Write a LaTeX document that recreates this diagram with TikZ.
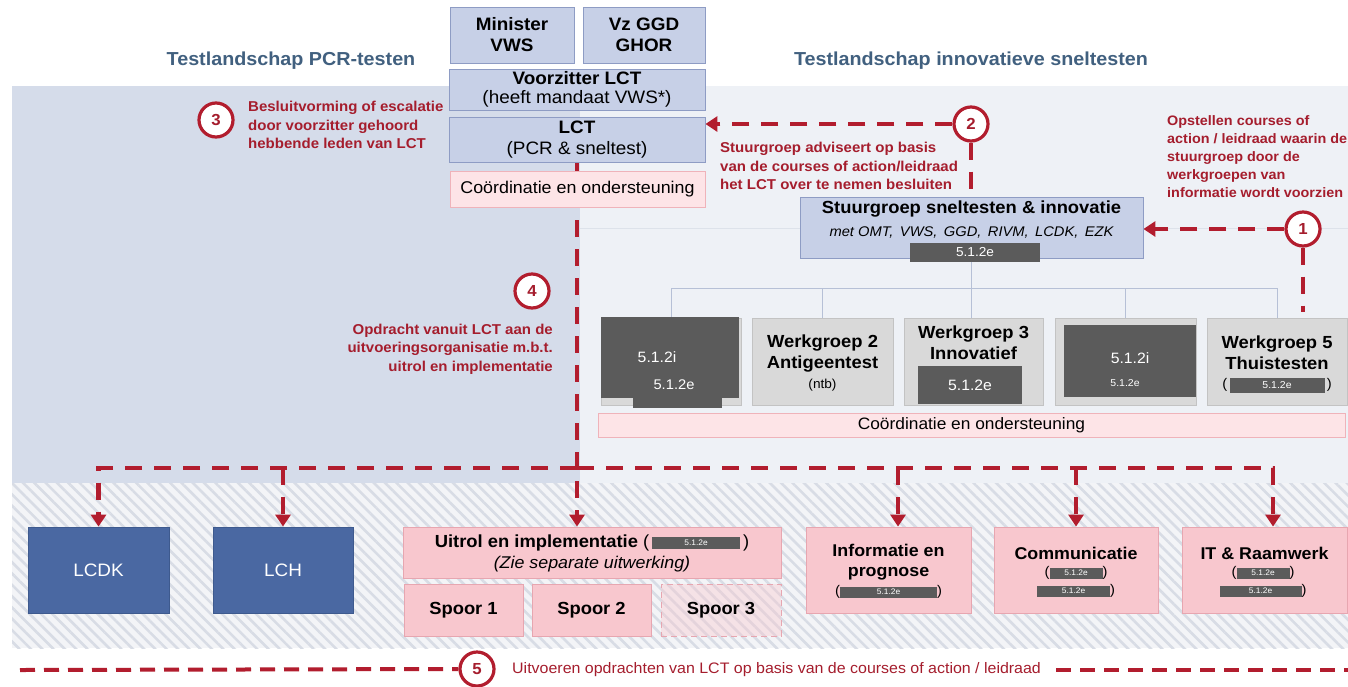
\documentclass[tikz,border=0pt]{standalone}
\usepackage{fontspec}
\setmainfont[FakeStretch=1.05]{Liberation Sans}
\usetikzlibrary{arrows.meta,patterns.meta,calc}
\definecolor{panelblue}{HTML}{D5DCEA}
\definecolor{panellight}{HTML}{EEF1F6}
\definecolor{panelline}{HTML}{DDE2EA}
\definecolor{boxblue}{HTML}{C7D0E7}
\definecolor{boxblueline}{HTML}{8E9CC4}
\definecolor{wggrey}{HTML}{D9D9D9}
\definecolor{wgline}{HTML}{C3C3C3}
\definecolor{darkbar}{HTML}{5B5B5B}
\definecolor{pinklight}{HTML}{FDE4E7}
\definecolor{pinklightline}{HTML}{EFB3BA}
\definecolor{pinkbox}{HTML}{F8C7CE}
\definecolor{pinkline}{HTML}{E7A6B0}
\definecolor{lcblue}{HTML}{4A68A2}
\definecolor{lcline}{HTML}{3E5A8E}
\definecolor{redline}{HTML}{B21D2E}
\definecolor{redtext}{HTML}{A51D2D}
\definecolor{titleblue}{HTML}{41607F}
\definecolor{treeline}{HTML}{B6C0D6}
\definecolor{hatchbg}{HTML}{F3F4F7}
\definecolor{hatchline}{HTML}{D8DCE5}
\newcommand{\gbar}[3]{{\setlength{\fboxsep}{0pt}\colorbox{darkbar}{\parbox[c][#2][c]{#1}{\centering\color{white}\fontsize{#3}{#3}\selectfont 5.1.2e}}}}
\pgfdeclarelayer{bg}\pgfdeclarelayer{conn}\pgfsetlayers{bg,conn,main}
\tikzset{
  box/.style={draw=boxblueline, fill=boxblue, line width=0.8pt, inner sep=0pt, align=center, text=black},
  wg/.style={draw=wgline, fill=wggrey, line width=0.8pt, inner sep=0pt},
  darkblk/.style={fill=darkbar, inner sep=0pt, text=white},
  coordbox/.style={draw=pinklightline, fill=pinklight, line width=0.8pt, inner sep=0pt, font=\fontsize{16.5}{18}\selectfont},
  pbox/.style={draw=pinkline, fill=pinkbox, line width=0.8pt, inner sep=0pt, align=center},
  lcbox/.style={draw=lcline, fill=lcblue, line width=0.8pt, inner sep=0pt, text=white, font=\fontsize{18}{20}\selectfont},
  numc/.style={circle, draw=redline, fill=white, line width=3.2pt, minimum size=34pt, inner sep=0pt, text=redtext, font=\fontsize{16}{16}\selectfont\bfseries},
  redann/.style={text=redtext, font=\fontsize{14.3}{18.5}\selectfont\bfseries, inner sep=0pt},
  reddash/.style={draw=redline, line width=4.5pt, dash pattern=on 17pt off 12pt},
  redarrow/.style={reddash, -{Triangle[width=15pt,length=12pt]}},
  reddashlow/.style={draw=redline, line width=4pt, dash pattern=on 15pt off 9pt},
  tree/.style={draw=treeline, line width=0.8pt},
  ttl/.style={text=titleblue, font=\fontsize{18.8}{21}\selectfont\bfseries, inner sep=0pt},
  bt/.style={font=\fontsize{17.5}{21}\selectfont\bfseries, align=center, inner sep=0pt},
  wt/.style={text=white, inner sep=0pt},
}
\begin{document}
\begin{tikzpicture}[x=1pt,y=-1pt]
\useasboundingbox (0,0) rectangle (1348,686);
\begin{pgfonlayer}{bg}
\fill[white] (0,0) rectangle (1348,686);
\fill[panelblue] (12,86) rectangle (580,483);
\fill[panellight] (580,86) rectangle (1348,483);
\draw[panelline, line width=0.8pt] (580,228) -- (1348,228);
\fill[hatchbg] (12,483) rectangle (1348,648);
\fill[pattern={Lines[angle=-45,distance=8pt,line width=2.6pt]}, pattern color=hatchline] (12,483) rectangle (1348,648);
\end{pgfonlayer}

% titles
\node[ttl] (tpcr) at (291,61) {Testlandschap PCR-testen};
\node[ttl] (tinno) at (971,61) {Testlandschap innovatieve sneltesten};

% top boxes
\node[box, minimum width=124pt, minimum height=56pt, font=\fontsize{18}{21}\selectfont\bfseries] (minister) at (512,35) {Minister\\VWS};
\node[box, minimum width=122pt, minimum height=56pt, font=\fontsize{18}{21}\selectfont\bfseries] (vzggd) at (644,35) {Vz GGD\\GHOR};
\node[box, minimum width=256pt, minimum height=41pt, font=\fontsize{18}{19.5}\selectfont] (voorz) at (577,89.5) {{\bfseries Voorzitter LCT}\\(heeft mandaat VWS*)};
\node[box, minimum width=256pt, minimum height=45pt, font=\fontsize{18}{21}\selectfont] (lct) at (577,139.5) {{\bfseries LCT}\\(PCR \& sneltest)};
\node[coordbox, minimum width=255pt, minimum height=36pt, font=\fontsize{17}{18}\selectfont] (coordtop) at (577.5,189) {Coördinatie en ondersteuning};

% annotation 3
\node[numc] (c3) at (216,120) {3};
\node[redann, anchor=west, align=left] (a3) at (248,125) {Besluitvorming of escalatie\\door voorzitter gehoord\\hebbende leden van LCT};

% annotation 2
\node[numc] (c2) at (971,124) {2};
\node[redann, anchor=west, align=left] (a2) at (720,166) {Stuurgroep adviseert op basis\\van de courses of action/leidraad\\het LCT over te nemen besluiten};

% stuurgroep
\node[box, minimum width=343pt, minimum height=61pt] (sg) at (971.5,227.5) {};
\node[inner sep=0pt, font=\fontsize{17.5}{20}\selectfont\bfseries] (sgt) at (971.5,209) {Stuurgroep sneltesten \& innovatie};
\node[inner sep=0pt, font=\fontsize{14}{16}\selectfont\itshape] (sgs) at (971.5,233) {met OMT,\, VWS,\, GGD,\, RIVM,\, LCDK,\, EZK};
\node[darkblk, minimum width=130pt, minimum height=19pt, font=\fontsize{13}{14}\selectfont] (sgbar) at (975,252) {5.1.2e};

% annotation 1
\node[numc] (c1) at (1303,229) {1};
\node[redann, anchor=west, align=left, font=\fontsize{13.7}{18}\selectfont\bfseries] (a1) at (1167,157) {Opstellen courses of\\action / leidraad waarin de\\stuurgroep door de\\werkgroepen van\\informatie wordt voorzien};
\coordinate (c1end) at (1303,312);

% werkgroepen
\node[wg, minimum width=140pt, minimum height=87pt] (wg1) at (671,361.5) {};
\node[wg, minimum width=141pt, minimum height=87pt] (wg2) at (822.5,361.5) {};
\node[wg, minimum width=139pt, minimum height=87pt] (wg3) at (973.5,361.5) {};
\node[wg, minimum width=141pt, minimum height=87pt] (wg4) at (1125.5,361.5) {};
\node[wg, minimum width=140pt, minimum height=87pt] (wg5) at (1277,361.5) {};

\node[darkblk, minimum width=138pt, minimum height=81pt] (wg1a) at (670,357.5) {};
\node[darkblk, minimum width=89pt, minimum height=10pt] (wg1b) at (677.5,402.5) {};
\node[wt, font=\fontsize{15}{16}\selectfont] (wg1t1) at (657,357) {5.1.2i};
\node[wt, font=\fontsize{14}{16}\selectfont] (wg1t2) at (674,385) {5.1.2e};

\node[bt] (wg2t) at (822.5,353.5) {Werkgroep 2\\Antigeentest};
\node[inner sep=0pt, font=\fontsize{13}{14}\selectfont] (wg2n) at (822.5,385) {(ntb)};

\node[bt] (wg3t) at (973.5,343) {Werkgroep 3\\Innovatief};
\node[darkblk, minimum width=104pt, minimum height=38pt, font=\fontsize{15}{16}\selectfont] (wg3a) at (970,385) {5.1.2e};

\node[darkblk, minimum width=132pt, minimum height=72pt] (wg4a) at (1130,361) {};
\node[wt, font=\fontsize{15}{16}\selectfont] (wg4t1) at (1130,358) {5.1.2i};
\node[wt, font=\fontsize{10}{11}\selectfont] (wg4t2) at (1125,383) {5.1.2e};

\node[bt] (wg5t) at (1277,353) {Werkgroep 5\\Thuistesten};
\node[inner sep=0pt, font=\fontsize{14}{15}\selectfont] (wg5b) at (1277,385) {(\,\gbar{95pt}{15pt}{10}\,)};

\node[coordbox, minimum width=747pt, minimum height=24pt] (coordbot) at (971.5,425) {Coördinatie en ondersteuning};

% annotation 4
\node[numc] (c4) at (532,291) {4};
\node[redann, anchor=east, align=right] (a4) at (553,349) {Opdracht vanuit LCT aan de\\uitvoeringsorganisatie m.b.t.\\uitrol en implementatie};

% bottom boxes
\node[lcbox, minimum width=141pt, minimum height=86pt] (lcdk) at (98.5,570) {LCDK};
\node[lcbox, minimum width=140pt, minimum height=86pt] (lch) at (283,570) {LCH};
\node[pbox, minimum width=378pt, minimum height=51pt] (uitrol) at (592,552.5) {};
\node[inner sep=0pt, font=\fontsize{17.5}{20}\selectfont\bfseries] (uitt) at (592,543) {Uitrol en implementatie {\normalfont(\,\gbar{88pt}{12pt}{8}\,)}};
\node[inner sep=0pt, font=\fontsize{17}{20}\selectfont\itshape] (uits) at (592,564) {(Zie separate uitwerking)};
\node[pbox, minimum width=119pt, minimum height=52pt, font=\fontsize{17.5}{20}\selectfont\bfseries] (sp1) at (463.5,610) {Spoor 1};
\node[pbox, minimum width=119pt, minimum height=52pt, font=\fontsize{17.5}{20}\selectfont\bfseries] (sp2) at (591.5,610) {Spoor 2};
\node[pbox, minimum width=120pt, minimum height=52pt, font=\fontsize{17.5}{20}\selectfont\bfseries, dash pattern=on 6pt off 4pt, fill opacity=0.4, text opacity=1] (sp3) at (721,610) {Spoor 3};

\node[pbox, minimum width=165pt, minimum height=86pt] (info) at (888.5,570) {};
\node[bt, font=\fontsize{17}{20}\selectfont\bfseries] (infot) at (888.5,562) {Informatie en\\prognose};
\node[inner sep=0pt, font=\fontsize{14}{15}\selectfont] (infob) at (888.5,592) {(\gbar{97pt}{11pt}{8})};

\node[pbox, minimum width=164pt, minimum height=86pt] (comm) at (1076,570) {};
\node[bt, font=\fontsize{17}{20}\selectfont\bfseries] (commt) at (1076,553) {Communicatie};
\node[inner sep=0pt, font=\fontsize{14}{15}\selectfont] (commb1) at (1076,573) {(\gbar{53pt}{11pt}{8})};
\node[inner sep=0pt, font=\fontsize{14}{15}\selectfont] (commb2) at (1076,591) {\gbar{73pt}{11pt}{8})};

\node[pbox, minimum width=165pt, minimum height=86pt] (it) at (1264.5,570) {};
\node[bt, font=\fontsize{17}{20}\selectfont\bfseries] (itt) at (1264.5,553) {IT \& Raamwerk};
\node[inner sep=0pt, font=\fontsize{14}{15}\selectfont] (itb1) at (1263,573) {(\gbar{53pt}{11pt}{8})};
\node[inner sep=0pt, font=\fontsize{14}{15}\selectfont] (itb2) at (1263,591) {\gbar{82pt}{11pt}{8})};

% line 5
\coordinate (l5a) at (20,670);
\coordinate (l5b) at (1348,670);
\node[numc] (c5) at (477,669) {5};
\node[inner sep=0pt, anchor=west, text=redtext, font=\fontsize{15.2}{17}\selectfont] (t5) at (512,670) {Uitvoeren opdrachten van LCT op basis van de courses of action / leidraad};

\coordinate (junc) at (lct.south |- 0,468);
\coordinate (tb) at (sg.south |- 0,288);
\coordinate (infoin) at ($(info.north)+(9.5,0)$);
\coordinate (itin) at ($(it.north)+(8.5,0)$);

\begin{pgfonlayer}{conn}
% tree
\draw[tree] (sg.south) -- (sg.south |- wg3.north);
\draw[tree] (wg1.north |- tb) -- (wg5.north |- tb);
\draw[tree] (wg1.north |- tb) -- (wg1.north);
\draw[tree] (wg2.north |- tb) -- (wg2.north);
\draw[tree] (wg4.north |- tb) -- (wg4.north);
\draw[tree] (wg5.north |- tb) -- (wg5.north);
% red connectors
\draw[redarrow] (c2.west) -- (c2.west -| lct.east);
\draw[reddash] (c2.south) -- (c2.south |- sg.north);
\draw[redarrow] (c1.west) -- (c1.west -| sg.east);
\draw[reddash] (c1.south) -- (c1end);
\draw[redarrow] (lct.south) -- (lct.south |- uitrol.north);
\draw[redarrow] (junc) -| (lcdk.north);
\draw[redarrow] (junc) -| (itin);
\draw[redarrow] (lch.north |- junc) -- (lch.north);
\draw[redarrow] (infoin |- junc) -- (infoin);
\draw[redarrow] (comm.north |- junc) -- (comm.north);
\draw[reddashlow] (l5a) -- (c5.west);
\draw[reddashlow] ([xshift=15pt]t5.east) -- (l5b);
\end{pgfonlayer}
\end{tikzpicture}
\end{document}
